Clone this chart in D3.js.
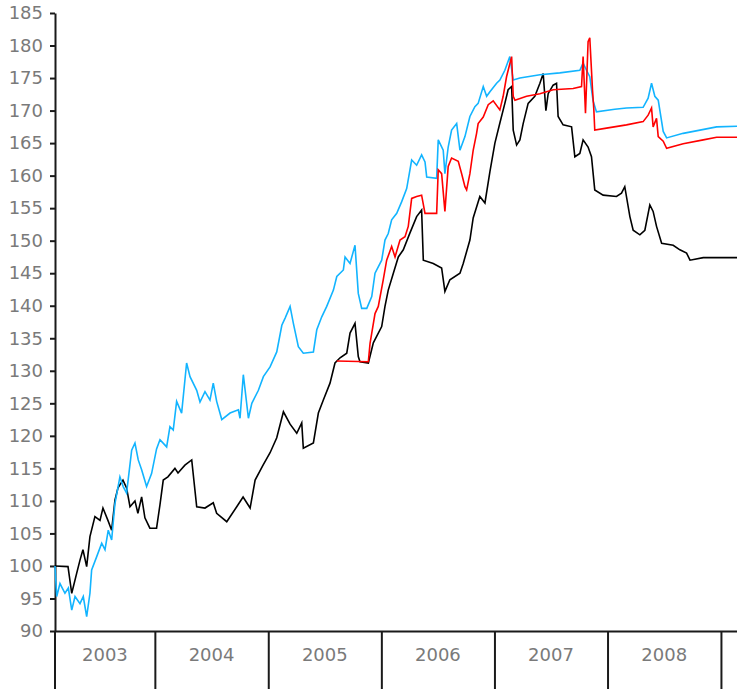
<!DOCTYPE html>
<html>
<head>
<meta charset="utf-8">
<script src="https://cdn.jsdelivr.net/npm/d3@7"></script>
<style>
  body { margin: 0; background: #fff; }
  .axis text { font-family: "DejaVu Sans", Verdana, sans-serif; font-size: 18px; fill: #7a7a7a; }
  .axis path, .axis line { stroke: #1a1a1a; stroke-width: 2; }
</style>
</head>
<body>
<div class="canvas"></div>
<script>
// [decimal year, value]
const blackSeries = [
  [2003.117,100.0],[2003.232,99.9],[2003.265,95.8],[2003.309,98.9],[2003.338,100.9],[2003.364,102.5],
  [2003.397,99.9],[2003.426,104.5],[2003.470,107.6],[2003.515,107.0],[2003.541,108.9],[2003.585,107.0],
  [2003.618,105.5],[2003.647,110.1],[2003.674,112.0],[2003.718,113.2],[2003.750,112.0],[2003.780,109.1],
  [2003.824,110.0],[2003.850,108.1],[2003.883,110.6],[2003.912,107.4],[2003.956,105.8],[2004.015,105.8],
  [2004.045,109.4],[2004.074,113.2],[2004.115,113.7],[2004.177,115.0],[2004.204,114.3],[2004.265,115.5],
  [2004.325,116.3],[2004.369,109.1],[2004.442,108.9],[2004.515,109.7],[2004.545,108.1],[2004.634,106.8],
  [2004.722,109.1],[2004.778,110.6],[2004.840,108.9],[2004.884,113.2],[2004.954,115.5],[2005.016,117.4],
  [2005.075,119.7],[2005.134,123.7],[2005.193,121.8],[2005.252,120.4],[2005.296,122.0],[2005.310,118.1],
  [2005.399,118.9],[2005.443,123.5],[2005.487,125.5],[2005.546,128.1],[2005.590,131.2],[2005.635,132.0],
  [2005.694,132.7],[2005.723,135.8],[2005.767,137.3],[2005.796,132.2],[2005.811,131.4],[2005.885,131.2],
  [2005.929,134.3],[2006.003,136.8],[2006.032,139.9],[2006.061,142.4],[2006.106,145.0],[2006.150,147.5],
  [2006.194,148.6],[2006.253,151.2],[2006.312,153.7],[2006.356,154.7],[2006.371,147.0],[2006.459,146.5],
  [2006.533,145.8],[2006.562,142.2],[2006.606,144.0],[2006.695,145.0],[2006.724,146.5],[2006.783,150.1],
  [2006.812,153.5],[2006.871,156.8],[2006.916,155.8],[2006.960,160.6],[2007.004,165.0],[2007.048,168.1],
  [2007.092,171.1],[2007.121,173.2],[2007.152,173.7],[2007.166,167.0],[2007.196,164.7],[2007.225,165.5],
  [2007.254,168.0],[2007.298,171.1],[2007.357,172.2],[2007.402,174.2],[2007.431,175.7],[2007.455,170.0],
  [2007.475,172.6],[2007.519,173.9],[2007.549,174.2],[2007.563,169.1],[2007.607,167.8],[2007.682,167.5],
  [2007.711,162.9],[2007.755,163.4],[2007.784,165.5],[2007.828,164.4],[2007.858,162.9],[2007.887,157.8],
  [2007.961,157.0],[2008.079,156.8],[2008.123,157.3],[2008.152,158.3],[2008.197,153.7],[2008.226,151.6],
  [2008.285,150.9],[2008.329,151.6],[2008.373,155.5],[2008.402,154.5],[2008.432,152.2],[2008.477,149.6],
  [2008.579,149.3],[2008.638,148.6],[2008.697,148.1],[2008.727,147.0],[2008.844,147.4],[2009.142,147.4]
];

const blueSeries = [
  [2003.117,100.0],[2003.132,95.3],[2003.161,97.3],[2003.205,95.8],[2003.235,96.6],[2003.265,93.2],
  [2003.294,95.3],[2003.338,94.2],[2003.367,95.3],[2003.397,92.2],[2003.426,95.8],[2003.441,99.4],
  [2003.485,101.4],[2003.530,103.5],[2003.559,102.5],[2003.588,105.5],[2003.618,104.0],[2003.647,109.6],
  [2003.691,113.7],[2003.720,112.2],[2003.750,111.2],[2003.795,117.8],[2003.824,118.9],[2003.853,116.3],
  [2003.883,114.8],[2003.927,112.2],[2003.971,114.2],[2004.015,118.0],[2004.045,119.4],[2004.104,118.3],
  [2004.133,121.4],[2004.162,120.9],[2004.192,125.3],[2004.236,123.5],[2004.280,131.2],[2004.310,129.1],
  [2004.369,127.0],[2004.398,125.2],[2004.442,126.8],[2004.486,125.5],[2004.515,128.1],[2004.545,125.3],
  [2004.590,122.5],[2004.663,123.5],[2004.736,124.0],[2004.751,122.7],[2004.780,129.4],[2004.825,122.7],
  [2004.855,125.0],[2004.913,127.0],[2004.957,129.1],[2005.016,130.6],[2005.075,132.9],[2005.120,137.0],
  [2005.149,138.1],[2005.193,139.9],[2005.222,137.3],[2005.266,133.7],[2005.310,132.7],[2005.399,132.9],
  [2005.429,136.3],[2005.473,138.3],[2005.517,139.9],[2005.576,142.4],[2005.606,144.5],[2005.664,145.5],
  [2005.679,147.5],[2005.723,146.5],[2005.767,149.3],[2005.796,141.9],[2005.826,139.6],[2005.871,139.6],
  [2005.915,141.4],[2005.944,145.0],[2006.003,147.0],[2006.032,150.1],[2006.061,151.1],[2006.091,153.2],
  [2006.136,154.2],[2006.180,156.0],[2006.224,158.0],[2006.268,162.4],[2006.312,161.6],[2006.356,163.2],
  [2006.386,162.1],[2006.401,159.8],[2006.489,159.6],[2006.503,165.5],[2006.547,163.9],[2006.562,160.3],
  [2006.591,164.4],[2006.621,167.0],[2006.666,168.0],[2006.695,163.9],[2006.739,166.0],[2006.783,169.1],
  [2006.827,170.6],[2006.856,171.1],[2006.901,173.7],[2006.931,172.2],[2006.960,172.9],[2007.019,174.2],
  [2007.048,174.7],[2007.092,176.2],[2007.136,178.3],[2007.166,174.7],[2007.225,175.0],[2007.402,175.5],
  [2007.578,175.8],[2007.755,176.2],[2007.784,177.3],[2007.814,176.2],[2007.843,175.2],[2007.872,171.5],
  [2007.902,169.8],[2008.064,170.2],[2008.167,170.4],[2008.314,170.5],[2008.358,171.9],[2008.388,174.2],
  [2008.417,172.2],[2008.447,171.6],[2008.491,166.8],[2008.521,165.8],[2008.667,166.5],[2008.815,167.0],
  [2008.962,167.5],[2009.142,167.6]
];

const redSeries = [
  [2005.606,131.5],[2005.885,131.4],[2005.900,134.2],[2005.944,138.8],[2005.973,139.9],[2006.017,144.0],
  [2006.047,147.0],[2006.091,149.1],[2006.121,147.5],[2006.165,150.1],[2006.209,150.6],[2006.238,152.2],
  [2006.268,156.5],[2006.312,156.8],[2006.356,157.0],[2006.386,154.2],[2006.489,154.2],[2006.503,160.9],
  [2006.533,160.3],[2006.562,154.5],[2006.591,161.4],[2006.621,162.7],[2006.680,162.2],[2006.710,160.3],
  [2006.739,158.3],[2006.754,157.8],[2006.783,160.3],[2006.812,163.9],[2006.842,166.5],[2006.856,168.0],
  [2006.901,169.0],[2006.945,170.9],[2006.989,171.5],[2007.048,170.1],[2007.077,172.2],[2007.107,175.2],
  [2007.152,178.3],[2007.166,172.2],[2007.181,171.6],[2007.284,172.2],[2007.402,172.6],[2007.519,173.2],
  [2007.696,173.4],[2007.770,173.7],[2007.784,178.3],[2007.805,169.6],[2007.828,180.6],[2007.843,181.2],
  [2007.867,173.2],[2007.879,170.1],[2007.887,167.0],[2007.991,167.3],[2008.167,167.8],[2008.314,168.3],
  [2008.358,169.3],[2008.388,170.4],[2008.402,167.5],[2008.432,168.8],[2008.447,166.0],[2008.491,165.3],
  [2008.521,164.2],[2008.667,164.9],[2008.844,165.5],[2008.962,165.9],[2009.142,165.9]
];

const years = [2003, 2004, 2005, 2006, 2007, 2008];
const yTicks = [90, 95, 100, 105, 110, 115, 120, 125, 130, 135, 140, 145, 150, 155, 160, 165, 170, 175, 180, 185];
const startYear = 2003.117;
const endYear = 2009.142;

const width = 737;
const height = 689;
const marginTop = 13;
const marginRight = 0;
const marginBottom = 58;
const marginLeft = 55;

function fromYear(t) {
  const y = Math.floor(t);
  const a = new Date(y, 0, 1), b = new Date(y + 1, 0, 1);
  return new Date(+a + (t - y) * (b - a));
}

const x = d3.scaleTime()
            .domain([fromYear(startYear), fromYear(endYear)])
            .range([marginLeft, width - marginRight]);

const y = d3.scaleLinear()
            .domain([90, 185])
            .range([height - marginBottom, marginTop]);

const svg = d3.select(".canvas").append("svg")
              .attr("width", width)
              .attr("height", height)
              .style("display", "block");

const line = d3.line()
               .x(d => x(fromYear(d[0])))
               .y(d => y(d[1]));

// x axis: year boundaries as long ticks, labels centred in each year
const gx = svg.append("g")
              .attr("class", "axis")
              .attr("transform", translate(0, height - marginBottom))
              .call(d3.axisBottom(x)
                      .tickValues(years.slice(1).concat([2009]).map(yr => new Date(yr, 0, 1)))
                      .tickSize(marginBottom)
                      .tickSizeOuter(0)
                      .tickFormat(""));

gx.selectAll(".year")
  .data(years)
  .join("text")
    .attr("class", "year")
    .attr("x", d => (x(d3.max([new Date(d, 0, 1), fromYear(startYear)])) + x(new Date(d + 1, 0, 1))) / 2)
    .attr("y", 30)
    .attr("text-anchor", "middle")
    .text(d => d);

svg.append("line")
   .attr("x1", marginLeft).attr("x2", marginLeft)
   .attr("y1", height - marginBottom).attr("y2", height)
   .attr("stroke", "#1a1a1a")
   .attr("stroke-width", 2);

const gy = svg.append("g")
              .attr("class", "axis")
              .attr("transform", translate(marginLeft, 0))
              .call(d3.axisLeft(y)
                      .tickValues(yTicks)
                      .tickSize(5)
                      .tickPadding(7)
                      .tickSizeOuter(0));

const series = [
  { data: blackSeries, color: "#000000" },
  { data: blueSeries, color: "#12b4ff" },
  { data: redSeries, color: "#ff0000" }
];

svg.selectAll(".series")
  .data(series)
  .join("path")
    .attr("class", "series")
    .attr("fill", "none")
    .attr("stroke", d => d.color)
    .attr("stroke-width", 1.6)
    .attr("stroke-linejoin", "miter")
    .attr("d", d => line(d.data));

function translate(x, y) {
  return "translate(" + x + ", " + y + ")";
}
</script>
</body>
</html>
